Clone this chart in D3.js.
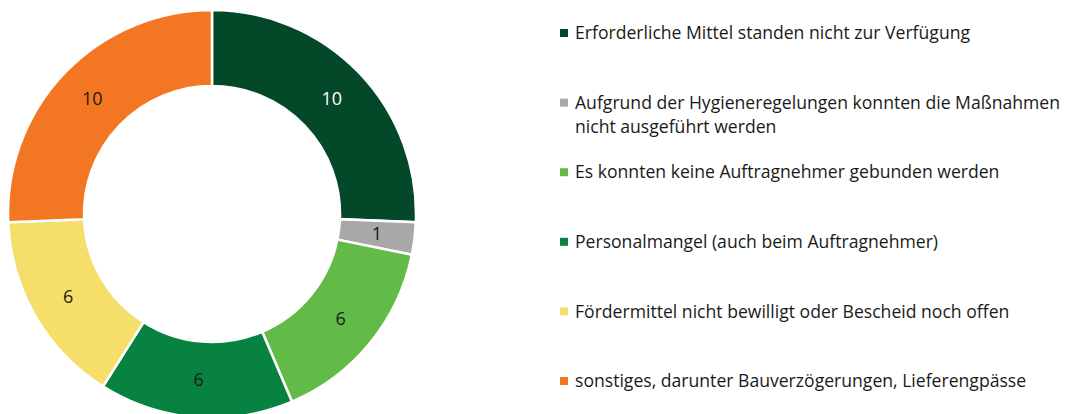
<!DOCTYPE html>
<html>
<head>
<meta charset="utf-8">
<script src="https://cdn.jsdelivr.net/npm/d3@7"></script>
<style>
  body { margin: 0; background: #fff; }
  text { font-family: "Open Sans", sans-serif; }
</style>
</head>
<body>
<div id="chart"></div>
<script>
// Chart data
const categories = [
  "Erforderliche Mittel standen nicht zur Verfügung",
  "Aufgrund der Hygieneregelungen konnten die Maßnahmen|nicht ausgeführt werden",
  "Es konnten keine Auftragnehmer gebunden werden",
  "Personalmangel (auch beim Auftragnehmer)",
  "Fördermittel nicht bewilligt oder Bescheid noch offen",
  "sonstiges, darunter Bauverzögerungen, Lieferengpässe"
];
const values = [10, 1, 6, 6, 6, 10];
const colors = ["#034829", "#a8a8a8", "#63bb47", "#078240", "#f6de6a", "#f37722"];
const labelColors = ["#ffffff", "#1a1a1a", "#1a1a1a", "#1a1a1a", "#1a1a1a", "#1a1a1a"];

const width = 1067, height = 414;
const cx = 212, cy = 214;
const outerR = 204, innerR = 128;

const svg = d3.select("#chart")
  .append("svg")
  .attr("width", width)
  .attr("height", height);

const data = categories.map((c, i) => ({ name: c, value: values[i], i }));

const pie = d3.pie()
  .value(d => d.value)
  .sort(null);

const arc = d3.arc()
  .innerRadius(innerR)
  .outerRadius(outerR);

const g = svg.append("g")
  .attr("transform", `translate(${cx},${cy})`);

const arcs = pie(data);

g.selectAll(".slice")
  .data(arcs)
  .enter()
  .append("path")
  .attr("class", "slice")
  .attr("d", arc)
  .attr("fill", d => colors[d.data.i])
  .attr("stroke", "#fff")
  .attr("stroke-width", 2.5);

g.selectAll(".label")
  .data(arcs)
  .enter()
  .append("text")
  .attr("class", "label")
  .attr("transform", d => `translate(${arc.centroid(d)})`)
  .attr("dy", ".35em")
  .attr("text-anchor", "middle")
  .attr("fill", d => labelColors[d.data.i])
  .style("font-size", "18px")
  .text(d => d.data.value);

// Legend
const legendY = d3.scalePoint()
  .domain(d3.range(categories.length))
  .range([33, 381]);

const legend = svg.selectAll(".legend")
  .data(data)
  .enter()
  .append("g")
  .attr("class", "legend")
  .attr("transform", d => `translate(560,${legendY(d.i)})`);

legend.append("rect")
  .attr("x", 0)
  .attr("y", -4)
  .attr("width", 8)
  .attr("height", 8)
  .attr("fill", d => colors[d.i]);

legend.append("text")
  .attr("x", 15)
  .style("font-size", "17.6px")
  .attr("fill", "#1a1a1a")
  .selectAll("tspan")
  .data(d => d.name.split("|"))
  .enter()
  .append("tspan")
  .attr("x", 15)
  .attr("dy", (d, j) => j === 0 ? ".35em" : "24px")
  .text(d => d);
</script>
</body>
</html>
